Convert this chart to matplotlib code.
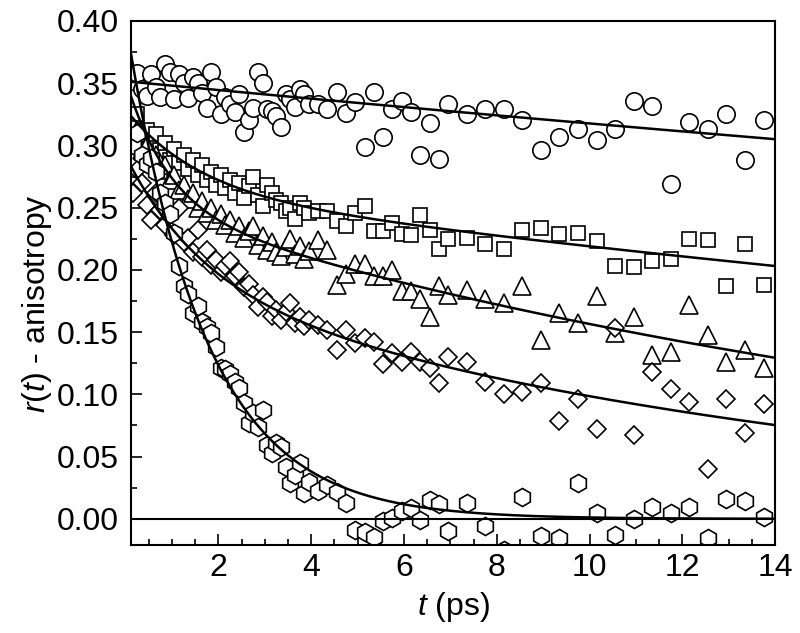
"""Anisotropy decay r(t) for five samples, with multi-exponential fits."""

import numpy as np
import matplotlib
matplotlib.use("Agg")
import matplotlib.pyplot as plt
import matplotlib.ticker as ticker

# ---------------------------------------------------------------------------
# Data
# ---------------------------------------------------------------------------

T_EARLY = [0.15, 0.25, 0.35, 0.45, 0.55, 0.65, 0.75, 0.85, 0.95, 1.05,
           1.15, 1.25, 1.35, 1.45, 1.55, 1.65, 1.75, 1.85, 1.95, 2.05,
           2.15, 2.25, 2.35, 2.45, 2.55, 2.65, 2.75, 2.85, 2.95, 3.05,
           3.15, 3.25, 3.35, 3.45, 3.55, 3.65, 3.75, 3.85, 3.95]
T_MID = [4.15, 4.35, 4.55, 4.75, 4.95, 5.15, 5.35, 5.55, 5.75, 5.95,
         6.15, 6.35, 6.55, 6.75, 6.95]
T_LATE = [7.35, 7.75, 8.15, 8.55, 8.95, 9.35, 9.75, 10.15, 10.55, 10.95,
          11.35, 11.75, 12.15, 12.55, 12.95, 13.35, 13.75]
TIME = T_EARLY + T_MID + T_LATE

R_CIRCLE = [0.352, 0.358, 0.345, 0.340, 0.357, 0.347, 0.339, 0.365, 0.359, 0.337,
            0.357, 0.350, 0.338, 0.355, 0.350, 0.342, 0.330, 0.359, 0.347, 0.325,
            0.339, 0.333, 0.327, 0.341, 0.311, 0.320, 0.330, 0.359, 0.350, 0.329,
            0.328, 0.324, 0.315, 0.341, 0.337, 0.331, 0.345, 0.341, 0.333,
            0.333, 0.329, 0.343, 0.326, 0.335, 0.299, 0.343, 0.307, 0.329, 0.336,
            0.327, 0.292, 0.318, 0.289, 0.333,
            0.325, 0.329, 0.329, 0.320, 0.296, 0.307, 0.313, 0.304, 0.313, 0.336,
            0.332, 0.269, 0.319, 0.313, 0.325, 0.288, 0.320]

R_SQUARE = [0.318, 0.325, 0.306, 0.312, 0.301, 0.309, 0.296, 0.302, 0.288, 0.297,
            0.286, 0.292, 0.281, 0.288, 0.276, 0.284, 0.272, 0.279, 0.268, 0.276,
            0.266, 0.272, 0.262, 0.270, 0.258, 0.267, 0.275, 0.260, 0.251, 0.268,
            0.262, 0.256, 0.254, 0.247, 0.250, 0.241, 0.254, 0.250, 0.246,
            0.247, 0.247, 0.239, 0.235, 0.246, 0.251, 0.231, 0.231, 0.238, 0.229,
            0.228, 0.244, 0.232, 0.217, 0.225,
            0.226, 0.221, 0.217, 0.232, 0.234, 0.229, 0.230, 0.223, 0.203, 0.202,
            0.207, 0.209, 0.225, 0.224, 0.187, 0.221, 0.188]

R_TRIANGLE = [0.302, 0.312, 0.296, 0.300, 0.288, 0.292, 0.280, 0.284, 0.272, 0.276,
              0.264, 0.268, 0.257, 0.262, 0.250, 0.255, 0.246, 0.250, 0.240, 0.245,
              0.236, 0.240, 0.230, 0.235, 0.226, 0.231, 0.235, 0.220, 0.227, 0.216,
              0.222, 0.214, 0.211, 0.218, 0.225, 0.213, 0.219, 0.209, 0.215,
              0.224, 0.216, 0.188, 0.197, 0.205, 0.205, 0.195, 0.195, 0.200, 0.183,
              0.183, 0.177, 0.162, 0.187, 0.180,
              0.184, 0.177, 0.173, 0.187, 0.144, 0.165, 0.157, 0.179, 0.149, 0.162,
              0.132, 0.134, 0.172, 0.148, 0.126, 0.136, 0.121]

R_DIAMOND = [0.262, 0.280, 0.270, 0.252, 0.240, 0.262, 0.248, 0.236, 0.244, 0.228,
             0.250, 0.222, 0.226, 0.214, 0.232, 0.210, 0.216, 0.204, 0.208, 0.198,
             0.203, 0.207, 0.195, 0.198, 0.186, 0.189, 0.180, 0.170, 0.178, 0.174,
             0.163, 0.168, 0.160, 0.166, 0.173, 0.157, 0.162, 0.155, 0.160,
             0.156, 0.152, 0.136, 0.152, 0.141, 0.145, 0.142, 0.124, 0.133, 0.126,
             0.134, 0.126, 0.121, 0.109, 0.130,
             0.126, 0.110, 0.100, 0.102, 0.109, 0.079, 0.096, 0.072, 0.153, 0.0675,
             0.118, 0.104, 0.094, 0.040, 0.096, 0.069, 0.092]

R_HEXAGON = [0.300, 0.310, 0.292, 0.285, 0.290, 0.279, 0.262, 0.254, 0.245, 0.230,
             0.203, 0.187, 0.181, 0.165, 0.171, 0.158, 0.154, 0.149, 0.138, 0.121,
             0.120, 0.116, 0.110, 0.105, 0.093, 0.077, 0.085, 0.074, 0.0875, 0.059,
             0.053, 0.061, 0.058, 0.042, 0.0287, 0.035, 0.045, 0.0206, 0.030,
             0.022, 0.027, 0.0214, 0.0131, -0.0088, -0.0102, -0.0142, -0.002, 0.0005, 0.006,
             0.0086, -0.0008, 0.0153, 0.012, -0.010,
             0.013, -0.006, -0.025, 0.0179, -0.0137, -0.0155, 0.029, 0.0046, -0.0131, 0.000,
             0.0099, 0.0046, 0.0094, -0.0155, 0.0158, 0.0147, 0.0018]

# Fit parameters: (a_fast, tau_fast, a_slow, tau_slow), taus in ps
FIT_CIRCLE   = (0.000, 1.00, 0.3515, 98.6)
FIT_SQUARE   = (0.065, 1.56, 0.2637, 53.6)
FIT_TRIANGLE = (0.101, 0.90, 0.2520, 21.0)
FIT_DIAMOND  = (0.100, 1.62, 0.1915, 15.0)
FIT_HEXAGON  = (0.000, 1.00, 0.4000, 1.70)

SERIES = [
    (R_CIRCLE,   FIT_CIRCLE,   "o", 12.5),
    (R_SQUARE,   FIT_SQUARE,   "s", 10.0),
    (R_TRIANGLE, FIT_TRIANGLE, "^", 13.0),
    (R_DIAMOND,  FIT_DIAMOND,  "D", 9.5),
    (R_HEXAGON,  FIT_HEXAGON,  "h", 13.0),
]

X_RANGE = (0.12, 14.0)
Y_RANGE = (-0.021, 0.40)

# ---------------------------------------------------------------------------
# Plot
# ---------------------------------------------------------------------------

plt.rcParams["font.family"] = ["Liberation Sans", "DejaVu Sans"]
plt.rcParams["mathtext.fontset"] = "custom"
plt.rcParams["mathtext.rm"] = "Liberation Sans"
plt.rcParams["mathtext.it"] = "Liberation Sans:italic"

FONT_SIZE = 23


def biexp(t, a1, t1, a2, t2):
    return a1 * np.exp(-t / t1) + a2 * np.exp(-t / t2)


fig = plt.figure(figsize=(8.0, 6.33), dpi=100)
ax = fig.add_axes([0.164, 0.139, 0.805, 0.828])

t_fit = np.linspace(X_RANGE[0], X_RANGE[1], 600)

for values, params, marker, size in SERIES:
    ax.plot(TIME, values, linestyle="none", marker=marker, markersize=size,
            markerfacecolor="white", markeredgecolor="black",
            markeredgewidth=1.2, zorder=2)

for values, params, marker, size in SERIES:
    ax.plot(t_fit, biexp(t_fit, *params), color="black", linewidth=1.8, zorder=3)

ax.axhline(0.0, color="black", linewidth=1.5, zorder=3)

ax.set_xlim(*X_RANGE)
ax.set_ylim(*Y_RANGE)

ax.xaxis.set_major_locator(ticker.MultipleLocator(2))
ax.xaxis.set_minor_locator(ticker.MultipleLocator(0.5))
ax.yaxis.set_major_locator(ticker.MultipleLocator(0.05))
ax.yaxis.set_minor_locator(ticker.MultipleLocator(0.025))
ax.yaxis.set_major_formatter(ticker.FormatStrFormatter("%.2f"))

ax.tick_params(which="both", direction="in", top=False, right=False,
               width=1.2, labelsize=FONT_SIZE)
ax.tick_params(axis="y", pad=9)
ax.tick_params(axis="x", pad=6)
ax.tick_params(which="major", length=8)
ax.tick_params(which="minor", length=4.5)

for spine in ax.spines.values():
    spine.set_linewidth(1.5)

ax.set_xlabel(r"$t$ (ps)", fontsize=FONT_SIZE)
ax.set_ylabel(r"$r$($t$) - anisotropy", fontsize=FONT_SIZE)
ax.xaxis.set_label_coords(0.5, -0.085)
ax.yaxis.set_label_coords(-0.12, 0.46)

fig.savefig("out.png", dpi=100, facecolor="white")
